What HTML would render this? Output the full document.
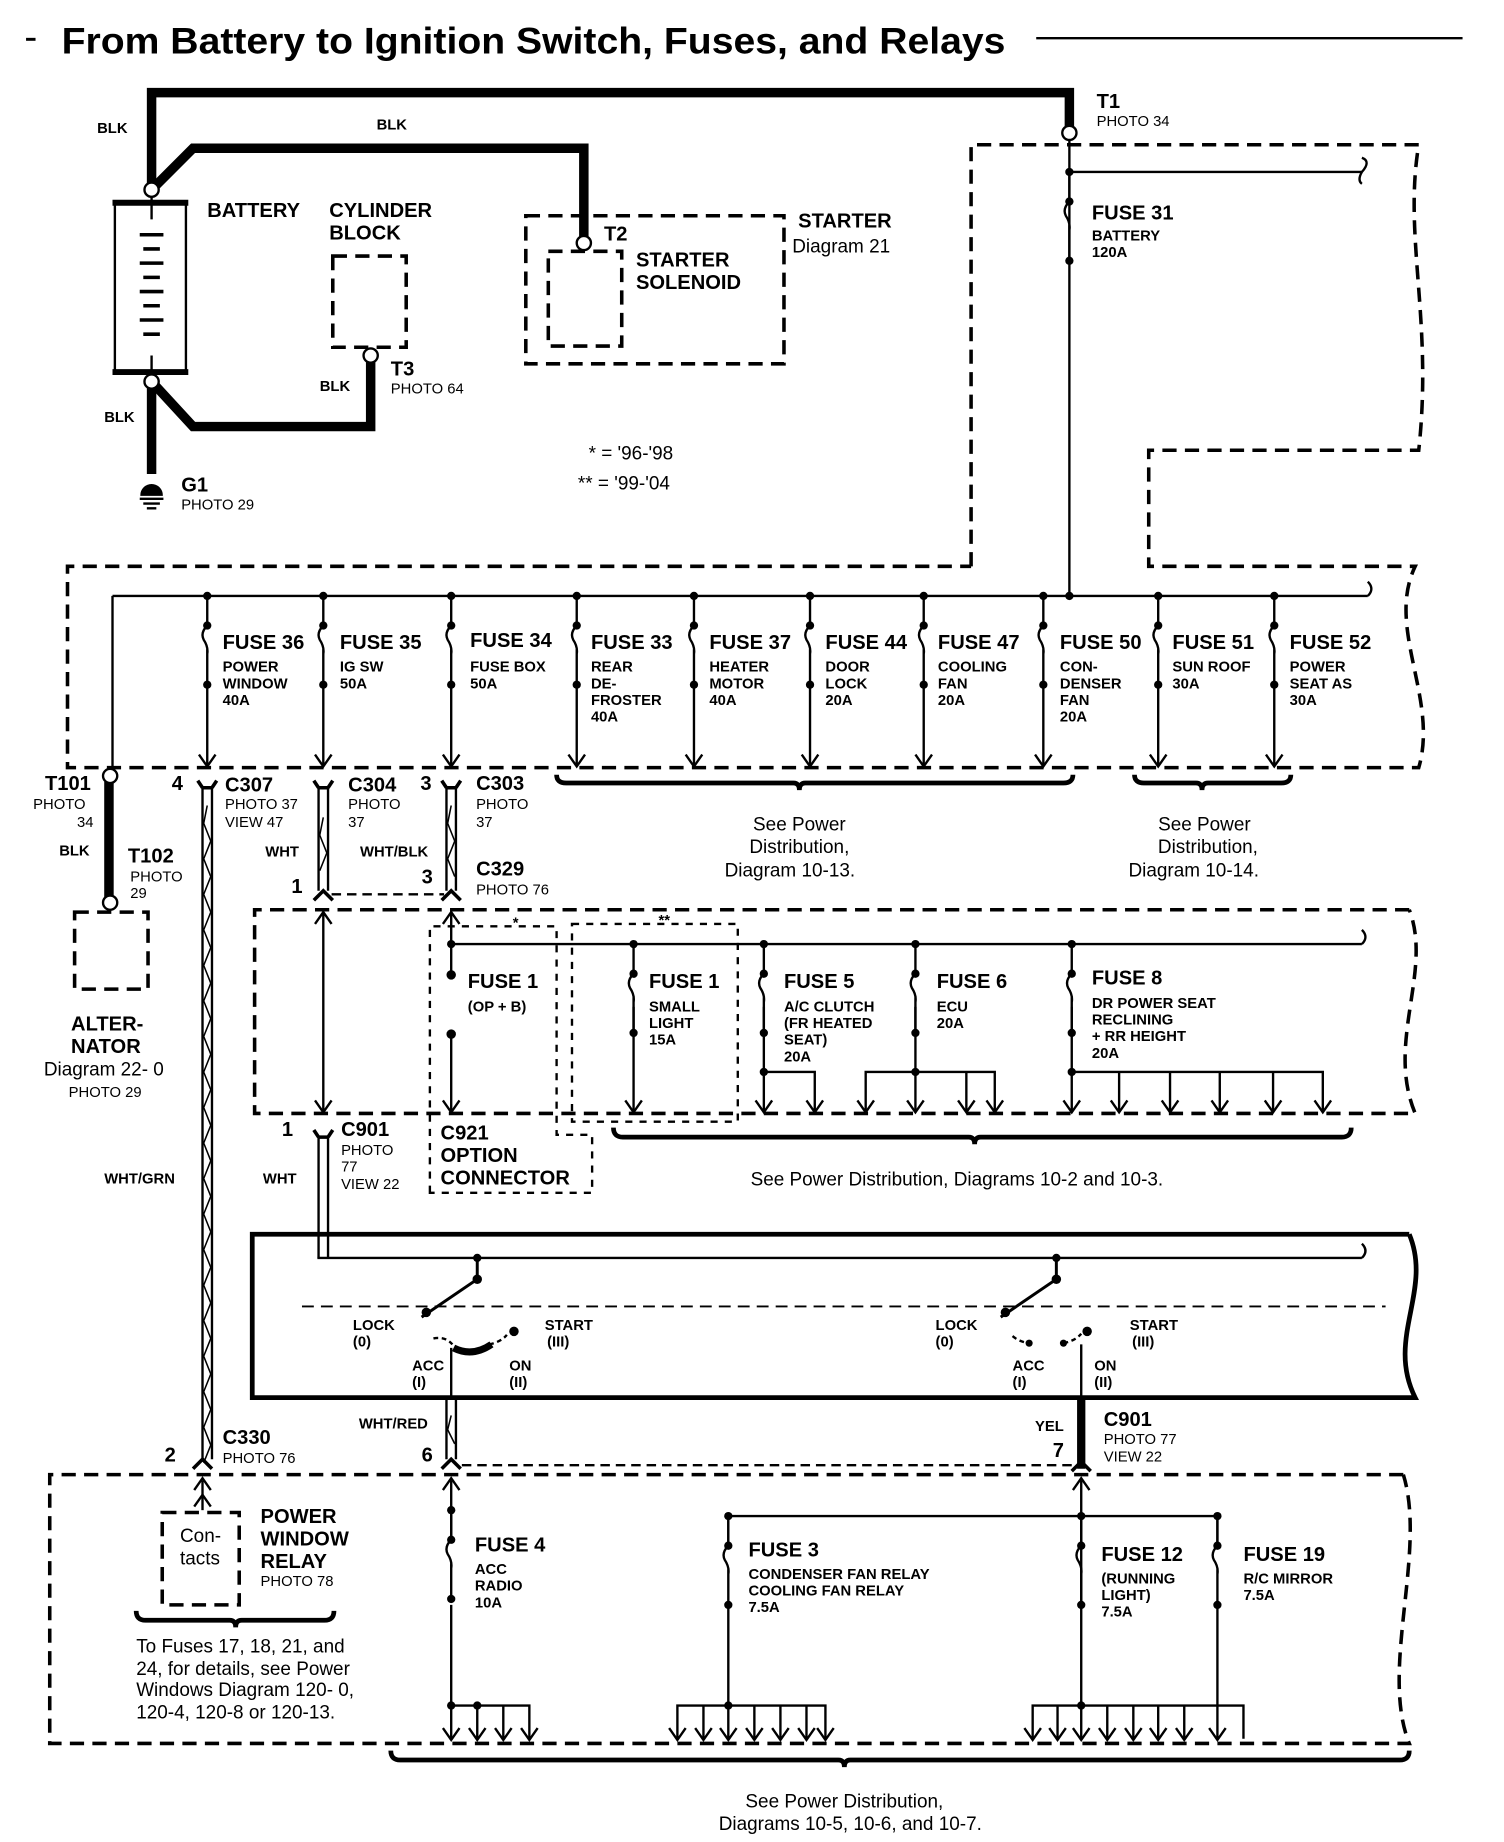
<!DOCTYPE html>
<html><head><meta charset="utf-8"><style>
html,body{margin:0;padding:0;background:#fff}
svg{display:block}
text{font-family:"Liberation Sans",Arial,sans-serif;fill:#000}
.b{font-weight:bold}
.f{font-size:17px;font-weight:bold}
.s{font-size:12.5px;font-weight:bold}
.p{font-size:12.5px}
.n{font-size:16px}
</style></head><body>
<svg width="1504" height="1842" viewBox="0 0 1270 1555" xmlns="http://www.w3.org/2000/svg">
<defs>
<g id="fz"><circle cx="0" cy="0" r="3.5"/><path d="M0,0 V25 q-6,6 -3,12 q4,6 3,12 V45 V75" fill="none" stroke="#000" stroke-width="2"/><circle cx="0" cy="25" r="3.5"/><circle cx="0" cy="75" r="3.5"/></g>
<path id="ar" d="M-7,-10 L0,0 L7,-10" fill="none" stroke="#000" stroke-width="2"/>
<path id="au" d="M-7,10 L0,0 L7,10" fill="none" stroke="#000" stroke-width="2"/>
<path id="cy" d="M-8,-6 L-4,0 M8,-6 L4,0 M-4,0 H4" fill="none" stroke="#000" stroke-width="3"/>
</defs>
<g stroke="#000" fill="none">
<path d="M22,33 h8" stroke-width="2.5"/>
<path d="M875,32 H1235" stroke-width="2"/>
<path d="M128,160 V78 H903 V108" stroke-width="8"/>
<path d="M128,160 L163,125 H493 V202" stroke-width="8"/>
<path d="M128,322 V400" stroke-width="8"/>
<path d="M128,322 L163,360 H313 V303" stroke-width="8"/>
<rect x="97" y="171" width="60" height="143" stroke-width="2"/>
<path d="M95,171 H159 M95,314 H159" stroke-width="5"/>
<path d="M128,166 V185 M128,300 V320" stroke-width="2"/>
<path d="M118,198 h20 M121,210 h14 M118,222 h20 M121,234 h14 M118,246 h20 M121,258 h14 M118,270 h20 M121,282 h14" stroke-width="3"/>
<path d="M119,418 a9,9 0 0 1 18,0 z" fill="#000"/>
<path d="M118,421 h20 M121,425 h14 M124,429 h8" stroke-width="2"/>
<g stroke-width="3" stroke-dasharray="12,7">
<rect x="281" y="216" width="62" height="77"/>
<rect x="444" y="182" width="218" height="125"/>
<rect x="463" y="212" width="62" height="80"/>
<path d="M820,478 V122 H1198 C1185,200 1210,270 1198,380 H970 V478 H1195 C1170,530 1215,590 1198,648 H57 V478 H820"/>
<rect x="63" y="770" width="62" height="65"/>
<path d="M1190,768 H215 V940 H1195 C1170,880 1210,820 1190,768"/>
<rect x="137" y="1277" width="65" height="78"/>
<path d="M1185,1245 H42 V1472 H1190 C1165,1410 1205,1310 1185,1245"/>
</g>
<g stroke-width="2" stroke-dasharray="6,6">
<path d="M363,1007 V782 H470 V958 H500 V1007 Z"/>
<path d="M483,780 H623 V947 H483 Z"/>
</g>
<path d="M1190,1042 H213 V1180 H1195 C1170,1130 1210,1090 1190,1042" stroke-width="4"/>
<path d="M903,110 V503" stroke-width="2"/>
<path d="M903,145 H1150 q8,-9 0,-12 M1150,145 q-4,7 0,10" stroke-width="2"/>
<path d="M95,503 H1155 M1155,503 q6,-6 0,-12" stroke-width="2"/>
<path d="M95,503 V650" stroke-width="2"/>
<path d="M92,660 V760" stroke-width="8"/>
<path d="M175,580 V646 M273,580 V646 M381,580 V646 M487,580 V646 M586,580 V646 M684,580 V646 M780,580 V646 M881,580 V646 M978,580 V646 M1076,580 V646" stroke-width="2"/>
<path d="M470,654 q0,7 8,7 H670 q5,0 5,6 q0,-6 5,-6 H898 q8,0 8,-7" stroke-width="4"/>
<path d="M958,654 q0,7 8,7 H1010 q5,0 5,6 q0,-6 5,-6 H1082 q8,0 8,-7" stroke-width="4"/>
<path d="M518,952 q0,8 8,8 H818 q5,0 5,6 q0,-6 5,-6 H1133 q8,0 8,-8" stroke-width="4"/>
<path d="M115,1360 q0,8 8,8 H194 q5,0 5,6 q0,-6 5,-6 H274 q8,0 8,-8" stroke-width="4"/>
<path d="M330,1478 q0,8 8,8 H708 q5,0 5,6 q0,-6 5,-6 H1182 q8,0 8,-8" stroke-width="4"/>
<path d="M171,665 V1232 M179,665 V1232" stroke-width="2"/>
<path d="M175,680 l-3,15 l6,15 l-6,15 l6,15 l-6,15 l6,15 l-6,15 l6,15 l-6,15 l6,15 l-6,15 l6,15 l-6,15 l6,15 l-6,15 l6,15 l-6,15 l6,15 l-6,15 l6,15 l-6,15 l6,15 l-6,15 l6,15 l-6,15 l6,15 l-6,15 l6,15 l-6,15 l6,15 l-6,15 l6,15 l-6,15 l6,15 l-6,15 l6,15 l-6,15" stroke-width="1.3"/>
<path d="M269,665 V752 M277,665 V752 M377,665 V752 M385,665 V752" stroke-width="2"/>
<path d="M273,690 l-3,15 l6,15 l-6,15 M381,680 l-3,15 l6,15 l-6,15 l6,15" stroke-width="1.3"/>
<path d="M280,755 H375" stroke-width="2" stroke-dasharray="8,5"/>
<path d="M273,770 V938 M381,770 V797" stroke-width="2"/>
<path d="M269,960 V1062 M277,960 V1062" stroke-width="2"/>
<path d="M381,797 H1150 M1150,797 q6,-6 0,-12" stroke-width="2"/>
<path d="M381,797 V823 M381,873 V938" stroke-width="2"/>
<path d="M535,850 V938 M645,850 V938 M773,850 V905 M905,850 V905" stroke-width="2"/>
<path d="M645,905 H688 V938 M731,938 V905 H840 V938 M773,905 V938 M816,905 V938 M905,905 H1117 V938 M945,905 V938 M988,905 V938 M1030,905 V938 M1075,905 V938 M905,905 V938" stroke-width="2"/>
<path d="M268,1062 H1150 M1150,1062 q6,-6 0,-12" stroke-width="2"/>
<path d="M255,1103 H1170" stroke-width="1.6" stroke-dasharray="10,6"/>
<path d="M403,1062 V1080 L356,1112 M892,1062 V1080 L845,1112" stroke-width="2.5"/>
<path d="M366,1130 q10,-2 16,5 M413,1135 q10,-2 15,-8 M855,1128 q6,5 14,6 M898,1134 q10,-2 15,-8" stroke-width="2" stroke-dasharray="4,3"/>
<path d="M383,1138 q16,8 32,-3" stroke-width="6"/>
<path d="M381,1138 V1180 M913,1135 V1180" stroke-width="2"/>
<path d="M377,1180 V1232 M385,1180 V1232" stroke-width="2"/>
<path d="M381,1195 l-3,12 l6,12" stroke-width="1.3"/>
<path d="M913,1180 V1240" stroke-width="7"/>
<path d="M390,1237 H905" stroke-width="2" stroke-dasharray="8,5"/>
<path d="M381,1250 V1300 M381,1355 V1468 M381,1440 H447 V1468 M425,1440 V1468 M403,1440 V1468" stroke-width="2"/>
<path d="M913,1250 V1468 M913,1280 H615 V1305 M615,1355 V1440 M572,1468 V1440 H697 V1468 M594,1440 V1468 M615,1440 V1468 M637,1440 V1468 M659,1440 V1468 M681,1440 V1468" stroke-width="2"/>
<path d="M913,1280 H1028 V1305 M1028,1355 V1440 M872,1468 V1440 H1050 V1468 M893,1440 V1468 M935,1440 V1468 M957,1440 V1468 M978,1440 V1468 M1000,1440 V1468 M1028,1440 V1468" stroke-width="2"/>
<path d="M171,1250 V1275" stroke-width="2"/>
</g>
<g fill="#fff" stroke="#000" stroke-width="2">
<circle cx="128" cy="160" r="6"/><circle cx="128" cy="322" r="6"/><circle cx="493" cy="205" r="6"/><circle cx="313" cy="300" r="6"/><circle cx="903" cy="112" r="6"/><circle cx="93" cy="655" r="6"/><circle cx="93" cy="762" r="6"/>
</g>
<use href="#fz" x="903" y="145"/>
<g>
<use href="#fz" x="175" y="503"/><use href="#fz" x="273" y="503"/><use href="#fz" x="381" y="503"/><use href="#fz" x="487" y="503"/><use href="#fz" x="586" y="503"/><use href="#fz" x="684" y="503"/><use href="#fz" x="780" y="503"/><use href="#fz" x="881" y="503"/><use href="#fz" x="978" y="503"/><use href="#fz" x="1076" y="503"/>
<use href="#fz" x="535" y="797"/><use href="#fz" x="645" y="797"/><use href="#fz" x="773" y="797"/><use href="#fz" x="905" y="797"/>
<use href="#fz" x="381" y="1275"/><use href="#fz" x="615" y="1280"/><use href="#fz" x="913" y="1280"/><use href="#fz" x="1028" y="1280"/>
</g>
<g>
<circle cx="381" cy="797" r="3.5"/><circle cx="381" cy="823" r="4"/><circle cx="381" cy="873" r="4"/><circle cx="645" cy="905" r="3.5"/><circle cx="773" cy="905" r="3.5"/><circle cx="905" cy="905" r="3.5"/>
<circle cx="403" cy="1062" r="3.5"/><circle cx="403" cy="1080" r="4"/><circle cx="892" cy="1062" r="3.5"/><circle cx="892" cy="1080" r="4"/>
<circle cx="360" cy="1108" r="4"/><circle cx="434" cy="1124" r="4"/><circle cx="849" cy="1108" r="4"/><circle cx="918" cy="1124" r="4"/><circle cx="869" cy="1134" r="3"/><circle cx="898" cy="1134" r="3"/>
<circle cx="381" cy="1440" r="3.5"/><circle cx="403" cy="1440" r="3.5"/><circle cx="615" cy="1440" r="3.5"/><circle cx="913" cy="1440" r="3.5"/><circle cx="903" cy="503" r="3.5"/>
</g>
<g>
<use href="#ar" x="175" y="647"/><use href="#ar" x="273" y="647"/><use href="#ar" x="381" y="647"/><use href="#ar" x="487" y="647"/><use href="#ar" x="586" y="647"/><use href="#ar" x="684" y="647"/><use href="#ar" x="780" y="647"/><use href="#ar" x="881" y="647"/><use href="#ar" x="978" y="647"/><use href="#ar" x="1076" y="647"/>
<use href="#ar" x="273" y="939"/><use href="#ar" x="381" y="939"/><use href="#ar" x="535" y="939"/><use href="#ar" x="645" y="939"/><use href="#ar" x="688" y="939"/><use href="#ar" x="731" y="939"/><use href="#ar" x="773" y="939"/><use href="#ar" x="816" y="939"/><use href="#ar" x="840" y="939"/><use href="#ar" x="905" y="939"/><use href="#ar" x="945" y="939"/><use href="#ar" x="988" y="939"/><use href="#ar" x="1030" y="939"/><use href="#ar" x="1075" y="939"/><use href="#ar" x="1117" y="939"/>
<use href="#ar" x="381" y="1469"/><use href="#ar" x="403" y="1469"/><use href="#ar" x="425" y="1469"/><use href="#ar" x="447" y="1469"/><use href="#ar" x="572" y="1469"/><use href="#ar" x="594" y="1469"/><use href="#ar" x="615" y="1469"/><use href="#ar" x="637" y="1469"/><use href="#ar" x="659" y="1469"/><use href="#ar" x="681" y="1469"/><use href="#ar" x="697" y="1469"/>
<use href="#ar" x="872" y="1469"/><use href="#ar" x="893" y="1469"/><use href="#ar" x="913" y="1469"/><use href="#ar" x="935" y="1469"/><use href="#ar" x="957" y="1469"/><use href="#ar" x="978" y="1469"/><use href="#ar" x="1000" y="1469"/><use href="#ar" x="1028" y="1469"/>
<use href="#au" x="273" y="770"/><use href="#au" x="381" y="770"/><use href="#au" x="381" y="1248"/><use href="#au" x="913" y="1248"/><use href="#au" x="171" y="1248"/><use href="#au" x="171" y="1262"/>
<use href="#cy" x="175" y="665"/><use href="#cy" x="273" y="665"/><use href="#cy" x="381" y="665"/><use href="#cy" x="273" y="960"/>
<path d="M265,760 L273,752 L281,760 M373,760 L381,752 L389,760 M373,1240 L381,1232 L389,1240 M905,1242 L913,1234 L921,1242 M163,1240 L171,1232 L179,1240" stroke="#000" stroke-width="3" fill="none"/>
</g>
<text x="52" y="45" font-size="31" class="b" textLength="797" lengthAdjust="spacingAndGlyphs">From Battery to Ignition Switch, Fuses, and Relays</text>
<text x="82" y="112" class="s">BLK</text><text x="318" y="109" class="s">BLK</text><text x="270" y="330" class="s">BLK</text><text x="88" y="356" class="s">BLK</text>
<text x="175" y="183" class="f">BATTERY</text><text x="278" y="183" class="f">CYLINDER</text><text x="278" y="202" class="f">BLOCK</text>
<text x="330" y="317" class="f">T3</text><text x="330" y="332" class="p">PHOTO 64</text>
<text x="510" y="203" class="f">T2</text><text x="537" y="225" class="f">STARTER</text><text x="537" y="244" class="f">SOLENOID</text>
<text x="674" y="192" class="f">STARTER</text><text x="669" y="213" class="n">Diagram 21</text>
<text x="926" y="91" class="f">T1</text><text x="926" y="106" class="p">PHOTO 34</text>
<text x="153" y="415" class="f">G1</text><text x="153" y="430" class="p">PHOTO 29</text>
<text x="497" y="388" class="n">*  =  '96-'98</text><text x="488" y="413" class="n">**  =  '99-'04</text>
<text x="922" y="185" class="f">FUSE 31</text><text x="922" y="203" class="s">BATTERY</text><text x="922" y="217" class="s">120A</text>
<g class="s">
<text x="188" y="567">POWER</text><text x="188" y="581">WINDOW</text><text x="188" y="595">40A</text>
<text x="287" y="567">IG SW</text><text x="287" y="581">50A</text>
<text x="397" y="567">FUSE BOX</text><text x="397" y="581">50A</text>
<text x="499" y="567">REAR</text><text x="499" y="581">DE-</text><text x="499" y="595">FROSTER</text><text x="499" y="609">40A</text>
<text x="599" y="567">HEATER</text><text x="599" y="581">MOTOR</text><text x="599" y="595">40A</text>
<text x="697" y="567">DOOR</text><text x="697" y="581">LOCK</text><text x="697" y="595">20A</text>
<text x="792" y="567">COOLING</text><text x="792" y="581">FAN</text><text x="792" y="595">20A</text>
<text x="895" y="567">CON-</text><text x="895" y="581">DENSER</text><text x="895" y="595">FAN</text><text x="895" y="609">20A</text>
<text x="990" y="567">SUN ROOF</text><text x="990" y="581">30A</text>
<text x="1089" y="567">POWER</text><text x="1089" y="581">SEAT AS</text><text x="1089" y="595">30A</text>
</g>
<g class="f">
<text x="188" y="548">FUSE 36</text><text x="287" y="548">FUSE 35</text><text x="397" y="546">FUSE 34</text><text x="499" y="548">FUSE 33</text><text x="599" y="548">FUSE 37</text><text x="697" y="548">FUSE 44</text><text x="792" y="548">FUSE 47</text><text x="895" y="548">FUSE 50</text><text x="990" y="548">FUSE 51</text><text x="1089" y="548">FUSE 52</text>
</g>
<g class="n" text-anchor="middle">
<text x="675" y="701">See Power</text><text x="675" y="720">Distribution,</text><text x="667" y="740">Diagram 10-13.</text>
<text x="1017" y="701">See Power</text><text x="1020" y="720">Distribution,</text><text x="1008" y="740">Diagram 10-14.</text>
<text x="808" y="1001">See Power Distribution, Diagrams 10-2 and 10-3.</text>
<text x="713" y="1526">See Power Distribution,</text><text x="718" y="1545">Diagrams 10-5, 10-6, and 10-7.</text>
</g>
<text x="38" y="667" class="f">T101</text><text x="28" y="683" class="p">PHOTO</text><text x="65" y="698" class="p">34</text>
<text x="50" y="722" class="s">BLK</text>
<text x="108" y="728" class="f">T102</text><text x="110" y="744" class="p">PHOTO</text><text x="110" y="758" class="p">29</text>
<text x="60" y="870" class="f">ALTER-</text><text x="60" y="889" class="f">NATOR</text><text x="37" y="908" class="n">Diagram 22- 0</text><text x="58" y="926" class="p">PHOTO 29</text>
<text x="145" y="667" class="f">4</text><text x="190" y="668" class="f">C307</text><text x="190" y="683" class="p">PHOTO 37</text><text x="190" y="698" class="p">VIEW 47</text>
<text x="294" y="668" class="f">C304</text><text x="294" y="683" class="p">PHOTO</text><text x="294" y="698" class="p">37</text>
<text x="355" y="667" class="f">3</text><text x="402" y="667" class="f">C303</text><text x="402" y="683" class="p">PHOTO</text><text x="402" y="698" class="p">37</text>
<text x="224" y="723" class="s">WHT</text><text x="304" y="723" class="s">WHT/BLK</text>
<text x="246" y="754" class="f">1</text><text x="356" y="746" class="f">3</text>
<text x="402" y="739" class="f">C329</text><text x="402" y="755" class="p">PHOTO 76</text>
<text x="433" y="783" class="s">*</text><text x="556" y="781" class="s">**</text>
<text x="395" y="834" class="f">FUSE 1</text><text x="395" y="854" class="s">(OP + B)</text>
<text x="548" y="834" class="f">FUSE 1</text><text x="548" y="854" class="s">SMALL</text><text x="548" y="868" class="s">LIGHT</text><text x="548" y="882" class="s">15A</text>
<text x="662" y="834" class="f">FUSE 5</text><text x="662" y="854" class="s">A/C CLUTCH</text><text x="662" y="868" class="s">(FR HEATED</text><text x="662" y="882" class="s">SEAT)</text><text x="662" y="896" class="s">20A</text>
<text x="791" y="834" class="f">FUSE 6</text><text x="791" y="854" class="s">ECU</text><text x="791" y="868" class="s">20A</text>
<text x="922" y="831" class="f">FUSE 8</text><text x="922" y="851" class="s">DR POWER SEAT</text><text x="922" y="865" class="s">RECLINING</text><text x="922" y="879" class="s">+ RR HEIGHT</text><text x="922" y="893" class="s">20A</text>
<text x="372" y="962" class="f" font-size="18">C921</text><text x="372" y="981" class="f" font-size="18">OPTION</text><text x="372" y="1000" class="f" font-size="18">CONNECTOR</text>
<text x="238" y="959" class="f">1</text><text x="288" y="959" class="f">C901</text><text x="288" y="975" class="p">PHOTO</text><text x="288" y="989" class="p">77</text><text x="288" y="1004" class="p">VIEW 22</text>
<text x="222" y="999" class="s">WHT</text><text x="88" y="999" class="s">WHT/GRN</text>
<g class="s">
<text x="298" y="1123">LOCK</text><text x="298" y="1137">(0)</text><text x="460" y="1123">START</text><text x="462" y="1137">(III)</text>
<text x="348" y="1157">ACC</text><text x="348" y="1171">(I)</text><text x="430" y="1157">ON</text><text x="430" y="1171">(II)</text>
<text x="790" y="1123">LOCK</text><text x="790" y="1137">(0)</text><text x="954" y="1123">START</text><text x="956" y="1137">(III)</text>
<text x="855" y="1157">ACC</text><text x="855" y="1171">(I)</text><text x="924" y="1157">ON</text><text x="924" y="1171">(II)</text>
<text x="303" y="1206">WHT/RED</text><text x="874" y="1208">YEL</text>
</g>
<text x="356" y="1234" class="f">6</text><text x="889" y="1230" class="f">7</text>
<text x="932" y="1204" class="f">C901</text><text x="932" y="1219" class="p">PHOTO 77</text><text x="932" y="1234" class="p">VIEW 22</text>
<text x="139" y="1234" class="f">2</text><text x="188" y="1219" class="f">C330</text><text x="188" y="1235" class="p">PHOTO 76</text>
<text x="152" y="1302" class="n">Con-</text><text x="152" y="1321" class="n">tacts</text>
<text x="220" y="1286" class="f">POWER</text><text x="220" y="1305" class="f">WINDOW</text><text x="220" y="1324" class="f">RELAY</text><text x="220" y="1339" class="p">PHOTO 78</text>
<g class="n"><text x="115" y="1395">To Fuses 17, 18, 21, and</text><text x="115" y="1414">24, for details, see Power</text><text x="115" y="1432">Windows Diagram 120- 0,</text><text x="115" y="1451">120-4, 120-8 or 120-13.</text></g>
<text x="401" y="1310" class="f">FUSE 4</text><text x="401" y="1329" class="s">ACC</text><text x="401" y="1343" class="s">RADIO</text><text x="401" y="1357" class="s">10A</text>
<text x="632" y="1314" class="f">FUSE 3</text><text x="632" y="1333" class="s">CONDENSER FAN RELAY</text><text x="632" y="1347" class="s">COOLING FAN RELAY</text><text x="632" y="1361" class="s">7.5A</text>
<text x="930" y="1318" class="f">FUSE 12</text><text x="930" y="1337" class="s">(RUNNING</text><text x="930" y="1351" class="s">LIGHT)</text><text x="930" y="1365" class="s">7.5A</text>
<text x="1050" y="1318" class="f">FUSE 19</text><text x="1050" y="1337" class="s">R/C MIRROR</text><text x="1050" y="1351" class="s">7.5A</text>
</svg>
</body></html>
